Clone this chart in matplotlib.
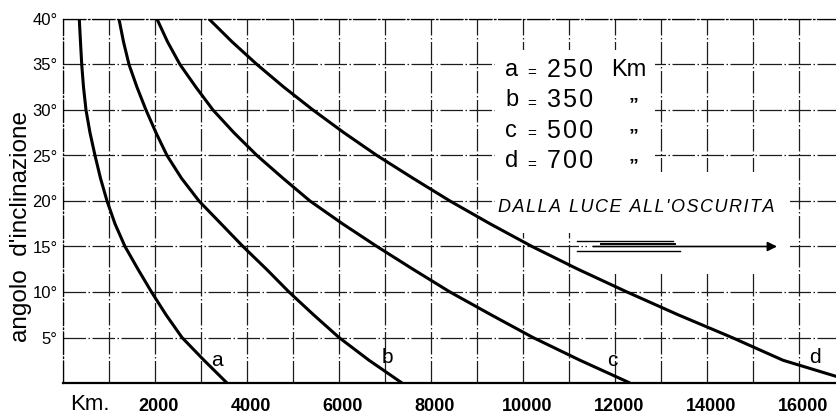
import matplotlib.pyplot as plt
import matplotlib.transforms as mtransforms
from matplotlib.patches import Rectangle

plt.rcParams['font.family'] = ['Liberation Sans', 'DejaVu Sans']

# distanza percorsa (km) per ogni angolo d'inclinazione (gradi)
angoli = [40, 37.5, 35, 32.5, 30, 27.5, 25, 22.5, 20, 17.5, 15, 12.5, 10, 7.5, 5, 2.5, 0]
km_a = [354, 380, 407, 446, 500, 587, 696, 815, 957, 1130, 1348, 1630, 1924, 2239, 2587, 3065, 3565]
km_b = [1217, 1315, 1435, 1609, 1804, 2022, 2261, 2576, 2957, 3435, 3913, 4424, 4913, 5446, 6000, 6652, 7370]
km_c = [2043, 2272, 2543, 2891, 3261, 3717, 4217, 4783, 5370, 6076, 6826, 7609, 8413, 9304, 10217, 11239, 12326]
km_d = [3174, 3674, 4217, 4804, 5435, 6109, 6826, 7609, 8413, 9283, 10196, 11196, 12261, 13370, 14543, 15652, 17283]

lettere = ['a', 'b', 'c', 'd']
quote = ['250', '350', '500', '700']
unita = ['Km', '\u201d', '\u201d', '\u201d']
pos_nomi = [(3348, 2.5), (7043, 2.8), (11935, 2.5), (16348, 2.75)]

xticks = list(range(0, 17000, 1000))
xlabels = [str(v) if v >= 2000 and v % 2000 == 0 else '' for v in xticks]
yticks = list(range(0, 45, 5))
ylabels = ['' if v == 0 else '%d\u00b0' % v for v in yticks]

fig = plt.figure(figsize=(8.37, 4.19), dpi=100)
ax = fig.add_axes([63 / 837, 36 / 419, 774 / 837, 364 / 419])

griglia = dict(color='#1c1c1c', lw=0.9, ls=(0, (18, 2, 1.2, 2)))
ax.set_axisbelow(True)
ax.grid(True, **griglia)

ax.set_xlim(0, 16826)
ax.set_ylim(0, 40)
ax.set_xticks(xticks)
ax.set_xticklabels(xlabels, weight='bold', fontsize=13)
ax.set_yticks(yticks)
ax.set_yticklabels(ylabels, fontsize=12)
ax.tick_params(axis='x', length=0, pad=11)
ax.tick_params(axis='y', length=0, pad=4)

# numeri dell'asse x un poco spostati a destra
sposta = mtransforms.ScaledTranslation(4 / 100, 0, fig.dpi_scale_trans)
for lab in ax.get_xticklabels():
    lab.set_transform(lab.get_transform() + sposta)

ax.spines['right'].set_visible(False)
for s in ['left', 'top']:
    ax.spines[s].set_linestyle(griglia['ls'])
    ax.spines[s].set_linewidth(0.9)
ax.spines['bottom'].set_linewidth(1.6)

# zone bianche dietro le scritte
for x0, y0, w, h in [(9390, 23.2, 3480, 13.4), (9390, 16.5, 6410, 6.7),
                     (11400, 12.2, 4400, 4.3)]:
    ax.add_patch(Rectangle((x0, y0), w, h, facecolor='white', edgecolor='none', zorder=1.5))

for km in [km_a, km_b, km_c, km_d]:
    ax.plot(km, angoli, color='black', lw=2.2, zorder=3, solid_capstyle='butt')

for n, (x, y) in zip(lettere, pos_nomi):
    ax.text(x, y, n, fontsize=15, ha='center', va='center', zorder=4)

# leggenda delle altezze
for i, (l, q, u) in enumerate(zip(lettere, quote, unita)):
    y = 34.4 - i * 3.35
    ax.text(9609, y, l, fontsize=17, ha='left', va='center', zorder=4)
    ax.text(10180, y - 0.35, '=', fontsize=11, ha='center', va='center', zorder=4)
    ax.text(10520, y, '\u200a'.join(q), fontsize=18, ha='left', va='center', zorder=4)
    if i == 0:
        ax.text(12300, y, u, fontsize=17, ha='center', va='center', zorder=4)
    else:
        ax.text(12400, y - 0.6, u, fontsize=14, weight='bold', ha='center', va='center', zorder=4)

ax.text(9457, 19.3, '\u200a'.join("DALLA LUCE ALL'OSCURITA"), fontsize=13, style='italic',
        ha='left', va='center', zorder=4)

# freccia
ax.annotate('', xy=(15522, 15), xytext=(11522, 15), zorder=4,
            arrowprops=dict(arrowstyle='-|>', color='black', lw=1.2, mutation_scale=14,
                            shrinkA=0, shrinkB=0))
ax.plot([11174, 13261], [15.6, 15.6], color='black', lw=1.0, zorder=4)
ax.plot([11700, 13300], [15.25, 15.25], color='black', lw=1.4, zorder=4)
ax.plot([11174, 13413], [14.55, 14.55], color='black', lw=1.0, zorder=4)

fig.text(21 / 837, 1 - 226 / 419, "angolo  d'inclinazione", fontsize=17.5,
         rotation=90, ha='center', va='center')
fig.text(90 / 837, 1 - 404 / 419, 'Km.', fontsize=16, ha='center', va='center')

fig.savefig('out.png', dpi=100)
